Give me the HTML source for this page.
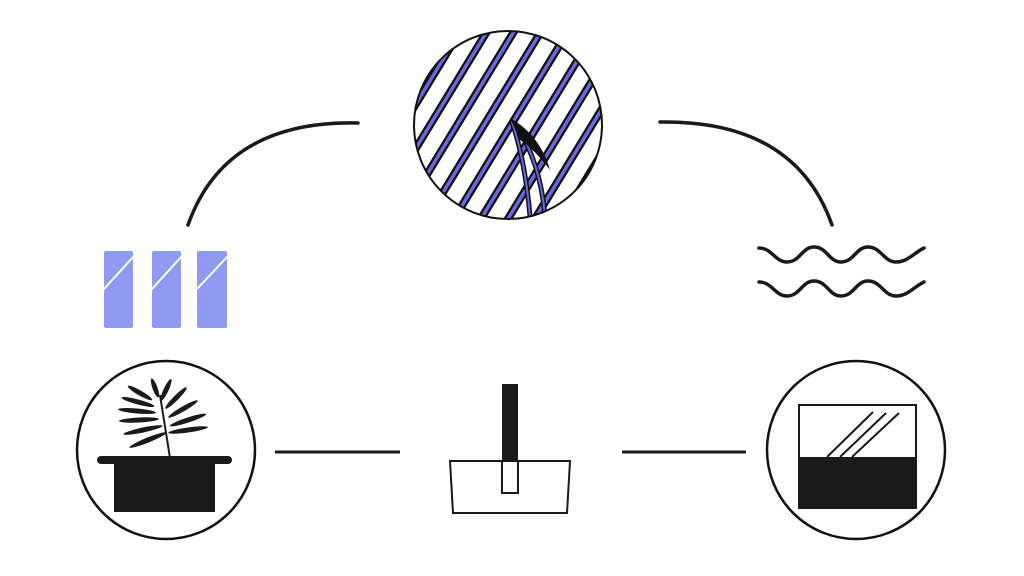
<!DOCTYPE html>
<html><head><meta charset="utf-8"><style>html,body{margin:0;padding:0;background:#fff}svg{display:block}</style></head>
<body>
<svg width="1024" height="576" viewBox="0 0 1024 576" xmlns="http://www.w3.org/2000/svg">
<defs><clipPath id="c"><circle cx="508" cy="125" r="94"/></clipPath>
<g id="st"><path d="M300 250 L440 20"/><path d="M327 250 L467 20"/><path d="M354 250 L494 20"/><path d="M381 250 L521 20"/><path d="M408 250 L548 20"/><path d="M435 250 L575 20"/><path d="M462 250 L602 20"/><path d="M489 250 L629 20"/><path d="M516 250 L656 20"/><path d="M543 250 L683 20"/><path d="M570 250 L710 20"/><path d="M597 250 L737 20"/></g>
</defs>
<rect width="1024" height="576" fill="#fff"/>
<path d="M188 225 Q225 120 358 123" fill="none" stroke="#1a1a1a" stroke-width="3.5" stroke-linecap="round"/>
<path d="M660 122 Q795 120 832 225" fill="none" stroke="#1a1a1a" stroke-width="3.5" stroke-linecap="round"/>
<line x1="275" y1="452" x2="400" y2="452" stroke="#1a1a1a" stroke-width="3"/>
<line x1="622" y1="452" x2="746" y2="452" stroke="#1a1a1a" stroke-width="3"/>
<g clip-path="url(#c)" fill="none">
<use href="#st" stroke="#111" stroke-width="8"/>
<use href="#st" stroke="#6a68e0" stroke-width="3.5"/>
<path d="M530 216 Q525 160 512 122" stroke="#111" stroke-width="5"/>
<path d="M545 216 Q540 160 515 124" stroke="#111" stroke-width="5"/>
<path d="M530 216 Q525 160 512 122" stroke="#6a68e0" stroke-width="2"/>
<path d="M545 216 Q540 160 515 124" stroke="#6a68e0" stroke-width="2"/>
<path d="M510 118 Q540 135 550 170 Q535 150 520 140 Z" fill="#111"/>
</g>
<circle cx="508" cy="125" r="94" fill="none" stroke="#111" stroke-width="2"/>
<g fill="#8f9bf2">
<rect x="104" y="251" width="29" height="77" rx="2"/>
<rect x="152" y="251" width="29" height="77" rx="2"/>
<rect x="197" y="251" width="30" height="77" rx="2"/>
</g>
<g stroke="#fff" stroke-width="2">
<line x1="134" y1="256" x2="103" y2="290"/>
<line x1="182" y1="256" x2="151" y2="290"/>
<line x1="228" y1="256" x2="196" y2="290"/>
</g>
<g fill="none" stroke="#1a1a1a" stroke-width="3.5" stroke-linecap="round">
<path d="M759 248 C772 248 775 262 787 262 C800 262 802 247 814 247 C827 247 829 262 841 262 C854 262 856 247 868 247 C881 247 884 262 896 262 C908 262 915 252 924 248"/>
<path d="M759 282 C772 282 775 296 787 296 C800 296 802 281 814 281 C827 281 829 296 841 296 C854 296 856 281 868 281 C881 281 884 296 896 296 C908 296 915 286 924 282"/>
</g>
<circle cx="166" cy="450" r="89" fill="none" stroke="#111" stroke-width="2.5"/>
<rect x="114" y="460" width="101" height="52" fill="#1a1a1a"/>
<rect x="97" y="456" width="135" height="8" rx="4" fill="#1a1a1a"/>
<path d="M170 458 L160 395" stroke="#1a1a1a" stroke-width="2"/>
<g fill="#1a1a1a">
<ellipse cx="140" cy="393" rx="14" ry="2.5" transform="rotate(30 140 393)"/>
<ellipse cx="138" cy="402" rx="17" ry="2.5" transform="rotate(15 138 402)"/>
<ellipse cx="137" cy="411" rx="19" ry="2.5" transform="rotate(5 137 411)"/>
<ellipse cx="139" cy="420" rx="20" ry="2.5" transform="rotate(-3 139 420)"/>
<ellipse cx="143" cy="430" rx="20" ry="2.5" transform="rotate(-12 143 430)"/>
<ellipse cx="148" cy="440" rx="20" ry="2.5" transform="rotate(-22 148 440)"/>
<ellipse cx="155" cy="388" rx="10" ry="2.5" transform="rotate(70 155 388)"/>
<ellipse cx="166" cy="390" rx="12" ry="2.5" transform="rotate(-65 166 390)"/>
<ellipse cx="176" cy="398" rx="15" ry="2.5" transform="rotate(-45 176 398)"/>
<ellipse cx="183" cy="409" rx="17" ry="2.5" transform="rotate(-30 183 409)"/>
<ellipse cx="188" cy="420" rx="19" ry="2.5" transform="rotate(-18 188 420)"/>
<ellipse cx="188" cy="430" rx="20" ry="2.5" transform="rotate(-8 188 430)"/>
</g>
<rect x="502" y="384" width="16" height="78" fill="#1a1a1a"/>
<path d="M450 461 L570 461 L567 513 L453 513 Z" fill="none" stroke="#1a1a1a" stroke-width="2"/>
<rect x="502" y="461" width="16" height="32" fill="#fff" stroke="#1a1a1a" stroke-width="2"/>
<circle cx="856" cy="450" r="89" fill="none" stroke="#111" stroke-width="2.5"/>
<rect x="799" y="405" width="117" height="103" fill="#fff" stroke="#1a1a1a" stroke-width="2"/>
<rect x="799" y="457" width="117" height="51" fill="#1a1a1a"/>
<g stroke="#1a1a1a" stroke-width="2">
<line x1="827" y1="457" x2="873" y2="412"/>
<line x1="840" y1="457" x2="886" y2="413"/>
<line x1="852" y1="457" x2="899" y2="413"/>
</g>
</svg>
</body></html>
